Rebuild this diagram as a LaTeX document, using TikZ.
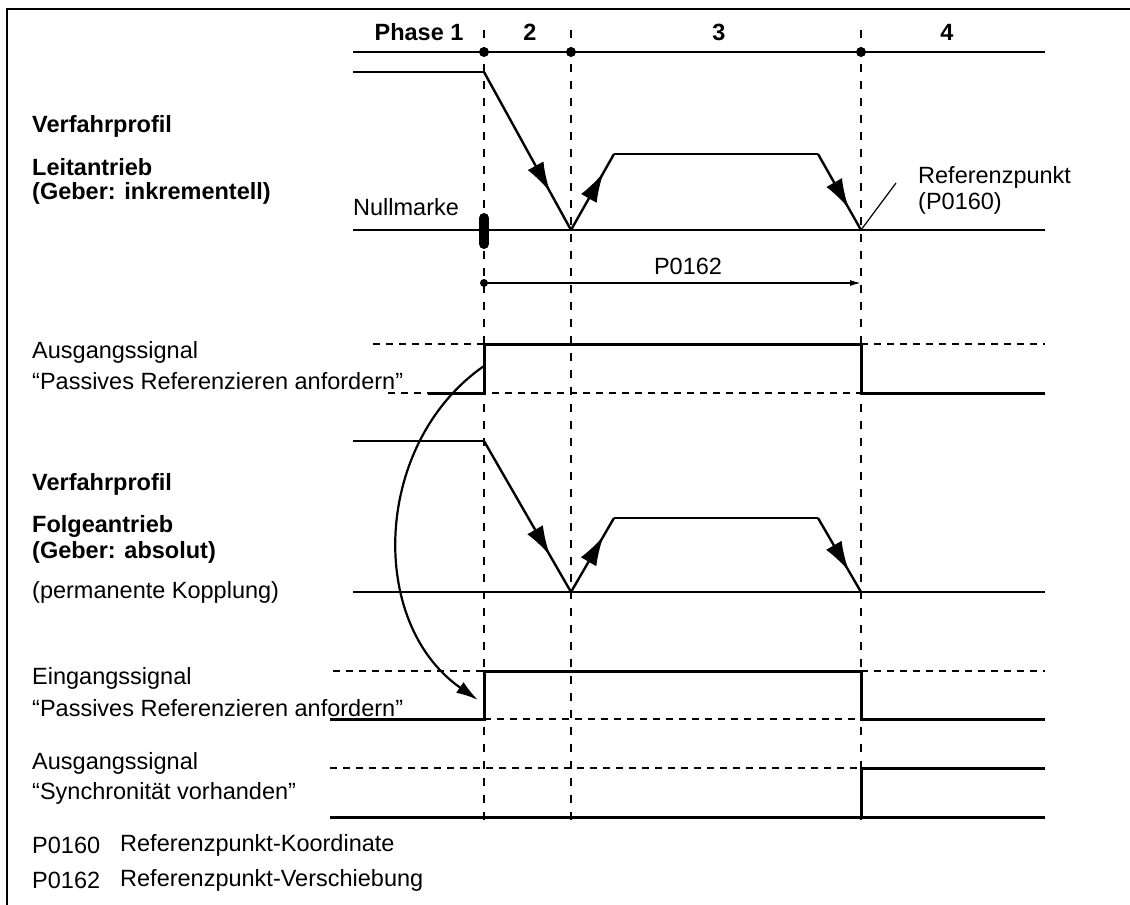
\documentclass[tikz,border=0pt]{standalone}
\usepackage{fontspec}
\setmainfont{Liberation Sans}
\usetikzlibrary{arrows.meta,decorations.markings}
\tikzset{
  prof/.style={line width=2.4pt, line join=miter},
  sig/.style={line width=3pt},
  lvl/.style={line width=1.3pt, dash pattern=on 7pt off 6pt},
  vdash/.style={line width=2.6pt, dash pattern=on 8pt off 9pt},
  thinln/.style={line width=1.4pt},
  frameln/.style={line width=2pt},
  dotnode/.style={circle, fill=black, inner sep=0pt, minimum size=10pt},
  lbl/.style={anchor=west, inner sep=0pt},
  ctr/.style={inner sep=0pt},
  bfnt/.style={font=\fontsize{23.5}{28}\selectfont\bfseries},
  arrmark/.style={postaction={decorate}, decoration={markings,
     mark=at position #1 with {\arrow{Latex[length=30pt,width=18pt]}}}},
}
\begin{document}
\begin{tikzpicture}[x=1pt,y=-1pt,font=\fontsize{23.5}{28}\selectfont]
\useasboundingbox (0,0) rectangle (1130,905);
% frame
\draw[frameln] (7,905) -- (7,9) -- (1130,9);

% header
\node[ctr,bfnt] (ph1) at (419,32) {Phase 1};
\node[ctr,bfnt] (ph2) at (530,32) {2};
\node[ctr,bfnt] (ph3) at (719,32) {3};
\node[ctr,bfnt] (ph4) at (947,32) {4};
\coordinate (h0) at (353,52);
\coordinate (h1) at (1045,52);
\draw[thinln] (h0) -- (h1);

% vertical phase lines
\coordinate (v1t) at (484,30); \coordinate (v1b) at (484,823);
\coordinate (v2t) at (571,30); \coordinate (v2b) at (571,823);
\coordinate (v3t) at (861,30); \coordinate (v3b) at (861,823);
\draw[vdash] (v1t) -- (v1b);
\draw[vdash] (v2t) -- (v2b);
\draw[vdash] (v3t) -- (v3b);
\node[dotnode] (d1) at (484,52) {};
\node[dotnode] (d2) at (571,52) {};
\node[dotnode] (d3) at (861,52) {};

% left labels
\node[lbl,bfnt] (t1) at (32,126) {Verfahrprofil};
\node[lbl,bfnt] (t2) at (32,167) {Leitantrieb};
\node[lbl,bfnt] (t3) at (32,193) {(Geber: inkrementell)};
\node[lbl] (t4) at (32,352) {Ausgangssignal};
\node[lbl] (t5) at (32,381) {“Passives Referenzieren anfordern”};
\node[lbl,bfnt] (t6) at (32,484) {Verfahrprofil};
\node[lbl,bfnt] (t7) at (32,526) {Folgeantrieb};
\node[lbl,bfnt] (t8) at (32,552) {(Geber: absolut)};
\node[lbl] (t9) at (32,592) {(permanente Kopplung)};
\node[lbl] (t10) at (32,678) {Eingangssignal};
\node[lbl] (t11) at (32,708) {“Passives Referenzieren anfordern”};
\node[lbl] (t12) at (32,763) {Ausgangssignal};
\node[lbl] (t13) at (32,793) {“Synchronität vorhanden”};
\node[lbl] (t14) at (32,845) {P0160};
\node[lbl] (t15) at (120,845) {Referenzpunkt-Koordinate};
\node[lbl] (t16) at (32,880) {P0162};
\node[lbl] (t17) at (120,880) {Referenzpunkt-Verschiebung};

% top profile (Leitantrieb)
\coordinate (a0) at (353,72);
\coordinate (a1) at (484,72);
\coordinate (a2) at (571,230);
\coordinate (a3) at (614,154);
\coordinate (a4) at (818,154);
\coordinate (a5) at (861,230);
\coordinate (b0) at (353,230);
\coordinate (b1) at (1045,230);
\draw[prof] (b0) -- (b1);
\draw[prof] (a0) -- (a1);
\draw[prof,arrmark=0.76] (a1) -- (a2);
\draw[prof,arrmark=0.76] (a2) -- (a3);
\draw[prof] (a3) -- (a4);
\draw[prof,arrmark=0.72] (a4) -- (a5);
\node[lbl] (nm) at (353,207) {Nullmarke};
\coordinate (nm0) at (484,218);
\coordinate (nm1) at (484,244);
\draw[line width=10pt,line cap=round] (nm0) -- (nm1);
\node[lbl] (rp1) at (918,177) {Referenzpunkt};
\node[lbl] (rp2) at (918,203) {(P0160)};
\coordinate (rpt) at (896,183);
\draw[line width=1.2pt] (a5) -- (rpt);

% P0162 dimension
\node[dotnode,minimum size=8pt] (pd0) at (484,283) {};
\coordinate (pd1) at (861,283);
\draw[thinln,-{Latex[length=11pt,width=6pt]}] (pd0.center) -- (pd1);
\node[ctr] (p162) at (688,266) {P0162};

% output signal 1
\coordinate (s1a) at (428,393);
\coordinate (s1b) at (484,393);
\coordinate (s1c) at (484,344);
\coordinate (s1d) at (861,344);
\coordinate (s1e) at (861,393);
\coordinate (s1f) at (1045,393);
\draw[lvl] (373,344) -- (s1c);
\draw[lvl] (s1d) -- (1045,344);
\draw[lvl] (388,393) -- (s1e);
\draw[sig] (s1a) -- (s1b) -- (s1c) -- (s1d) -- (s1e) -- (s1f);

% second profile (Folgeantrieb)
\coordinate (f0) at (353,441);
\coordinate (f1) at (484,441);
\coordinate (f2) at (571,592);
\coordinate (f3) at (614,518);
\coordinate (f4) at (818,518);
\coordinate (f5) at (861,592);
\coordinate (g0) at (353,592);
\coordinate (g1) at (1045,592);
\draw[prof] (g0) -- (g1);
\draw[prof] (f0) -- (f1);
\draw[prof,arrmark=0.76] (f1) -- (f2);
\draw[prof,arrmark=0.76] (f2) -- (f3);
\draw[prof] (f3) -- (f4);
\draw[prof,arrmark=0.72] (f4) -- (f5);

% input signal
\coordinate (e0) at (330,719);
\coordinate (e1) at (484,719);
\coordinate (e2) at (484,671);
\coordinate (e3) at (861,671);
\coordinate (e4) at (861,719);
\coordinate (e5) at (1045,719);
\draw[lvl] (333,671) -- (e2);
\draw[lvl] (e3) -- (1045,671);
\draw[lvl] (e1) -- (e4);
\draw[sig] (e0) -- (e1) -- (e2) -- (e3) -- (e4) -- (e5);

% sync signal
\coordinate (y0) at (330,817);
\coordinate (y1) at (861,817);
\coordinate (y2) at (861,768);
\coordinate (y3) at (1045,768);
\coordinate (y4) at (1045,817);
\draw[lvl] (330,768) -- (y2);
\draw[sig] (y0) -- (y4);
\draw[sig] (y1) -- (y2) -- (y3);

% curved arrow
\coordinate (c0) at (484,366);
\coordinate (c1) at (478,700);
\draw[line width=2.2pt,-{Latex[length=22pt,width=13pt]}] (c0) .. controls (373,443) and (367,623) .. (c1);
\end{tikzpicture}
\end{document}
